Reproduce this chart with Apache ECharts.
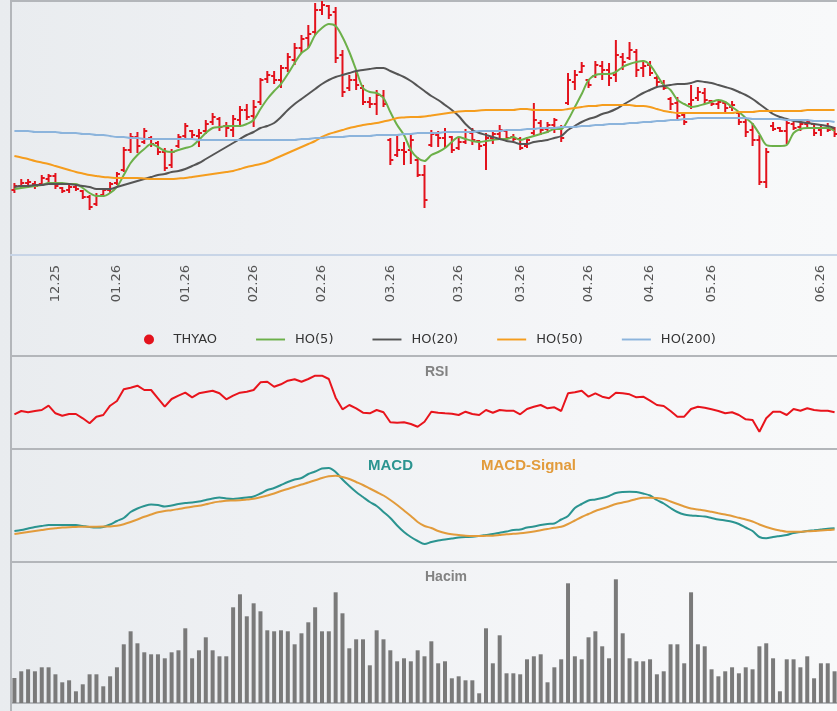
<!DOCTYPE html>
<html>
<head>
<meta charset="utf-8">
<title>THYAO</title>
<script src="https://cdn.jsdelivr.net/npm/echarts@6/dist/echarts.min.js"></script>
<style>
  html, body { margin: 0; padding: 0; }
  body {
    width: 837px; height: 711px; overflow: hidden;
    background: linear-gradient(to right, #e9ecef 0%, #eef0f3 30%, #f5f6f8 70%, #f8f9fa 100%);
  }
  #chart { width: 837px; height: 711px; }
</style>
</head>
<body>
<div id="chart"></div>
<script>
// x ekseni etiketleri (hangi gunun altinda yazildigi)
const tickLabels = ['12.25', '01.26', '01.26', '02.26', '02.26', '03.26', '03.26', '03.26', '04.26', '04.26', '05.26', '06.26'];
const tickIndex = [6, 15, 25, 35, 45, 55, 65, 74, 84, 93, 102, 118];

// THYAO OHLC
const open = [
  210, 214, 217, 216, 216, 221, 224, 212, 210, 213,
  209, 203, 196, 205, 210, 217, 230, 250, 263, 258,
  262, 257, 248, 235, 254, 264, 269, 264, 269, 278,
  281, 274, 270, 280, 290, 284, 298, 321, 324, 320,
  332, 340, 352, 362, 368, 390, 394, 388, 345, 312,
  320, 312, 298, 296, 304, 260, 245, 250, 250, 240,
  225, 255, 265, 262, 263, 252, 258, 267, 259, 255,
  262, 266, 269, 263, 261, 254, 267, 277, 271, 275,
  272, 297, 318, 328, 320, 324, 334, 330, 325, 343,
  342, 348, 332, 335, 322, 317, 301, 297, 285, 296,
  302, 307, 299, 296, 297, 293, 287, 278, 270, 260,
  218, 274, 272, 269, 276, 273, 276, 276, 270, 272,
  271
];
const close = [
  214, 217, 218, 214, 222, 224, 214, 209, 213, 211,
  203, 193, 204, 210, 216, 226, 250, 263, 254, 269,
  256, 248, 232, 248, 263, 274, 265, 267, 276, 283,
  273, 272, 281, 290, 283, 293, 320, 325, 320, 332,
  343, 352, 361, 366, 390, 395, 385, 342, 308, 320,
  315, 298, 296, 305, 296, 240, 250, 248, 260, 225,
  200, 266, 262, 268, 250, 258, 268, 260, 254, 262,
  266, 270, 262, 261, 252, 260, 280, 270, 275, 280,
  262, 320, 325, 334, 315, 335, 330, 322, 345, 338,
  350, 330, 334, 327, 318, 312, 296, 284, 278, 300,
  308, 300, 296, 298, 292, 295, 278, 268, 260, 218,
  248, 271, 269, 277, 272, 276, 278, 267, 272, 270,
  266
];
const low = [
  207, 212, 213, 211, 214, 217, 211, 207, 207, 209,
  201, 190, 194, 203, 207, 215, 228, 247, 247, 256,
  253, 245, 229, 232, 252, 262, 262, 253, 266, 275,
  269, 263, 263, 273, 280, 273, 295, 317, 316, 312,
  328, 335, 347, 352, 365, 385, 381, 337, 303, 309,
  310, 295, 292, 285, 293, 235, 243, 235, 236, 223,
  192, 253, 253, 252, 247, 250, 256, 255, 250, 230,
  256, 261, 260, 259, 250, 252, 265, 265, 267, 267,
  258, 295, 310, 327, 312, 322, 320, 314, 318, 330,
  340, 323, 323, 324, 313, 310, 290, 279, 275, 291,
  299, 296, 294, 291, 288, 289, 275, 263, 254, 215,
  212, 269, 268, 256, 270, 269, 273, 264, 264, 268,
  263
];
const high = [
  217, 221, 221, 219, 225, 226, 227, 213, 216, 216,
  210, 205, 207, 212, 218, 228, 253, 267, 268, 272,
  264, 259, 252, 251, 266, 277, 270, 271, 280, 287,
  283, 278, 285, 294, 296, 300, 322, 329, 329, 335,
  347, 357, 365, 375, 397, 399, 395, 393, 350, 325,
  328, 315, 303, 310, 310, 262, 266, 258, 267, 243,
  235, 270, 269, 272, 264, 263, 271, 272, 260, 267,
  269, 275, 270, 266, 263, 263, 297, 280, 278, 282,
  275, 327, 330, 338, 321, 339, 339, 337, 360, 347,
  358, 351, 340, 339, 324, 320, 303, 303, 287, 315,
  313, 312, 300, 300, 299, 299, 288, 281, 277, 265,
  252, 278, 273, 280, 278, 280, 281, 277, 276, 277,
  273
];

// hareketli ortalamalar
const ho5 = [
  211, 212, 213, 214, 215, 217, 217, 217, 216, 216,
  212, 207, 204, 204, 207, 213, 225, 237, 245, 251,
  256, 253, 249, 248, 250, 252, 254, 260, 267, 272,
  273, 274, 274, 274, 276, 280, 291, 301, 309, 316,
  326, 337, 347, 352, 365, 372, 376, 374, 363, 348,
  330, 312, 308, 307, 302, 288, 275, 265, 250, 242,
  239, 245, 248, 252, 258, 263, 261, 259, 258, 259,
  260, 261, 261, 263, 260, 262, 264, 266, 268, 271,
  271, 280, 293, 306, 320, 325, 326, 326, 328, 333,
  336, 338, 339, 335, 325, 315, 310, 300, 296, 293,
  294, 296, 298, 300, 298, 293, 288, 282, 276, 266,
  255, 254, 254, 255, 267, 271, 272, 272, 272, 272,
  269
];
const ho20 = [
  213, 214, 214, 215, 215, 216, 216, 216, 216, 215,
  214, 213, 211, 211, 211, 213, 215, 217, 219, 221,
  223, 225, 226, 228, 229, 231, 234, 237, 241, 245,
  249, 253, 257, 261, 265, 268, 272, 274, 277, 283,
  290, 296, 301, 306, 311, 316, 320, 323, 325, 327,
  329, 330, 331, 332, 332, 329, 326, 323, 319, 314,
  309, 304, 300, 295, 290, 284, 276, 270, 267, 265,
  263, 261, 259, 258, 256, 256, 258, 259, 260, 262,
  264, 270, 274, 278, 281, 283, 286, 288, 291, 295,
  299, 303, 307, 310, 313, 314, 315, 316, 316, 317,
  319, 318, 317, 315, 313, 311, 308, 305, 301, 296,
  291, 286, 283, 281, 279, 278, 277, 276, 275, 274,
  272
];
const ho50 = [
  244, 242.5, 241, 239, 237.5, 236, 234, 232, 230, 228,
  226.5, 225, 224, 223, 222.5, 222, 222, 222, 222, 221.5,
  221, 221, 221, 221, 221.5, 222, 223, 224, 225, 226,
  227, 228, 229, 231, 233, 234.5, 236, 238, 241, 244,
  247, 250, 253, 256, 259, 263, 266, 268, 270, 272,
  273.5, 275, 276, 277, 278.5, 280, 282, 282.5, 283, 283,
  283.5, 284.5, 285.5, 286.5, 287.5, 288.5, 289, 289, 289.5, 290,
  290, 290, 290, 290, 291, 291, 290, 290, 290, 290,
  290, 291, 292, 293, 294, 294, 295, 295, 295, 295,
  295, 294, 294, 293, 291, 289, 288, 287, 287, 287,
  287, 287, 287, 287, 287, 287, 288, 288, 288, 289,
  289, 289, 289, 289, 289, 289, 290, 290, 290, 290,
  290
];
const ho200 = [
  269, 269, 269, 268, 268, 268, 268, 267, 267, 267,
  266, 266, 265, 265, 264, 263, 263, 262, 262, 261,
  261, 261, 261, 261, 261, 261, 261, 260, 260, 260,
  260, 260, 260, 260, 260, 260, 260, 260, 260, 260,
  260, 260, 261, 261, 262, 262, 263, 263, 263, 264,
  264, 264, 264, 265, 265, 265, 265, 266, 266, 267,
  267, 267, 267, 268, 268, 268, 268, 268, 269, 269,
  269, 269, 270, 270, 270, 271, 271, 272, 272, 272,
  273, 273, 273, 274, 274, 275, 275, 276, 276, 276,
  277, 277, 278, 278, 279, 279, 280, 280, 281, 281,
  282, 282, 282, 282, 282, 282, 282, 282, 281, 281,
  281, 281, 281, 280, 280, 280, 280, 279, 279, 279,
  278
];

// RSI
const rsi = [
  40.7, 44, 42.7, 44, 45, 49.3, 41.7, 39.3, 41, 41,
  36.7, 31.7, 38.3, 40, 49.3, 54, 65.7, 67.3, 69.3, 65,
  65, 56.7, 48.3, 56, 59.3, 62.3, 57.7, 61.7, 63, 64.3,
  61.7, 55.7, 59.3, 62.3, 63.3, 65, 72.7, 73.3, 68.3, 70.7,
  74.3, 75.7, 73.3, 76, 79.3, 79.3, 76, 57.3, 45.7, 50,
  46.7, 42.3, 41.7, 45, 42.7, 32.7, 32.3, 32.7, 31, 28.3,
  33.3, 43.3, 42.3, 41.7, 41.3, 40, 43.3, 41, 40, 45,
  42.3, 45, 44.3, 44.3, 40.7, 46, 48.3, 50, 46.7, 47.7,
  44, 61.7, 62.7, 64.3, 58.3, 61.7, 58.3, 56.7, 62.3, 61.7,
  60.7, 57.7, 58.3, 54.3, 50, 49, 44, 38.3, 38.3, 46,
  48.3, 47.3, 45.7, 44, 41.7, 42.7, 40, 35.7, 35, 23.3,
  36.7, 43.3, 43.3, 40, 46, 44.3, 46.7, 45, 44.3, 44.3,
  42.7
];

// MACD ve sinyal
const macd = [
  -1.1, -1.0, -0.85, -0.7, -0.6, -0.5, -0.5, -0.5, -0.5, -0.5,
  -0.6, -0.7, -0.75, -0.7, -0.45, -0.1, 0.2, 0.8, 1.15, 1.4,
  1.55, 1.5, 1.35, 1.45, 1.6, 1.7, 1.75, 1.85, 2.0, 2.15,
  2.25, 2.15, 2.1, 2.17, 2.25, 2.35, 2.65, 3.0, 3.2, 3.5,
  3.8, 4.05, 4.2, 4.6, 4.85, 5.15, 5.2, 4.8, 4.05, 3.4,
  2.8, 2.3, 1.8, 1.4, 0.8, 0.2, -0.55, -1.2, -1.7, -2.1,
  -2.4, -2.2, -2.05, -1.95, -1.85, -1.75, -1.7, -1.68, -1.6, -1.5,
  -1.4, -1.27, -1.15, -1.0, -0.95, -0.75, -0.65, -0.5, -0.4, -0.35,
  0.05, 0.4, 1.2, 1.6, 1.95, 2.05, 2.2, 2.4, 2.7, 2.8,
  2.83, 2.8, 2.65, 2.45, 2.0, 1.65, 1.2, 0.8, 0.55, 0.45,
  0.4, 0.35, 0.2, 0.05, -0.05, -0.17, -0.4, -0.75, -1.1, -1.7,
  -1.83, -1.7, -1.6, -1.5, -1.3, -1.2, -1.1, -1.03, -0.95, -0.87,
  -0.83
];
const signal = [
  -1.4, -1.3, -1.2, -1.1, -1.0, -0.9, -0.83, -0.76, -0.72, -0.7,
  -0.67, -0.67, -0.67, -0.66, -0.64, -0.58, -0.42, -0.2, 0.05, 0.33,
  0.55, 0.77, 0.9, 0.98, 1.1, 1.22, 1.33, 1.42, 1.57, 1.73,
  1.84, 1.93, 1.95, 1.97, 2.04, 2.12, 2.27, 2.45, 2.65, 2.9,
  3.1, 3.32, 3.55, 3.75, 3.97, 4.2, 4.37, 4.43, 4.3, 4.1,
  3.8, 3.5, 3.15, 2.8, 2.45, 2.0, 1.5, 0.95, 0.4, -0.2,
  -0.6, -0.8, -1.1, -1.3, -1.43, -1.5, -1.57, -1.6, -1.6, -1.58,
  -1.57, -1.5, -1.43, -1.38, -1.33, -1.25, -1.15, -1.02, -0.9, -0.78,
  -0.68, -0.4, -0.05, 0.3, 0.6, 0.9, 1.12, 1.35, 1.6, 1.75,
  1.9, 2.1, 2.23, 2.23, 2.2, 2.1, 1.85, 1.6, 1.35, 1.15,
  1.05, 0.95, 0.82, 0.68, 0.54, 0.4, 0.22, 0.05, -0.15, -0.45,
  -0.7, -0.9, -1.05, -1.17, -1.18, -1.17, -1.13, -1.1, -1.04, -1.0,
  -0.94
];

// hacim
const volume = [
  25, 31.7, 33.7, 31.7, 35.7, 35.7, 28.7, 20.7, 22.7, 11.7,
  18.7, 28.7, 28.7, 16.7, 26.7, 35.7, 58.7, 71.7, 59.7, 50.7,
  48.7, 48.7, 44.7, 50.7, 52.7, 74.7, 44.7, 52.7, 65.7, 52.7,
  46.7, 46.7, 95.7, 108.7, 86.7, 99.7, 91.7, 72.7, 71.7, 72.7,
  71.7, 58.7, 69.7, 80.7, 95.7, 71.7, 71.7, 110.7, 89.7, 54.7,
  63.7, 63.7, 37.7, 72.7, 63.7, 52.7, 41.7, 44.7, 41.7, 52.7,
  46.7, 61.7, 39.7, 41.7, 24.7, 26.7, 22.7, 22.7, 9.7, 74.7,
  39.7, 67.7, 29.7, 29.7, 28.7, 43.7, 46.7, 48.7, 20.7, 35.7,
  43.7, 119.7, 46.7, 43.7, 65.7, 71.7, 56.7, 44.7, 123.7, 69.7,
  44.7, 41.7, 41.7, 43.7, 28.7, 31.7, 58.7, 58.7, 39.7, 110.7,
  58.7, 56.7, 33.7, 26.7, 31.7, 35.7, 29.7, 35.7, 33.7, 56.7,
  59.7, 44.7, 11.7, 43.7, 43.7, 35.7, 46.7, 24.7, 39.7, 39.7,
  31.7
];

const days = open.map((_, i) => {
  const k = tickIndex.indexOf(i);
  return k < 0 ? '' : tickLabels[k];
});
const ohlc = open.map((o, i) => [i, o, close[i], low[i], high[i]]);

const barColor = '#e3121c';
const frameColor = '#b3b6ba';
const lineIcon = 'path://M0,0H30V2H0Z';

function renderOhlc(params, api) {
  const i = api.value(0);
  const op = api.coord([i, api.value(1)]);
  const cl = api.coord([i, api.value(2)]);
  const lo = api.coord([i, api.value(3)]);
  const hi = api.coord([i, api.value(4)]);
  const st = { stroke: barColor, lineWidth: 2 };
  return {
    type: 'group',
    children: [
      { type: 'line', shape: { x1: hi[0], y1: hi[1], x2: lo[0], y2: lo[1] }, style: st },
      { type: 'line', shape: { x1: op[0] - 3, y1: op[1], x2: op[0], y2: op[1] }, style: st },
      { type: 'line', shape: { x1: cl[0], y1: cl[1], x2: cl[0] + 3, y2: cl[1] }, style: st }
    ]
  };
}

function hline(y) {
  return { type: 'line', silent: true, shape: { x1: 10, y1: y, x2: 837, y2: y }, style: { stroke: frameColor, lineWidth: 2 } };
}

const chart = echarts.init(document.getElementById('chart'));

const grids = [
  { top: 0, height: 255 },
  { top: 357, height: 90 },
  { top: 449, height: 113 },
  { top: 563, height: 140 }
];

const option = {
  animation: false,
  textStyle: { fontFamily: 'DejaVu Sans' },
  title: [
    { text: 'RSI', left: 425, top: 365, padding: 0,
      textStyle: { fontFamily: 'Liberation Sans', fontSize: 14, fontWeight: 'bold', color: '#828282' } },
    { text: 'MACD', left: 368, top: 458, padding: 0,
      textStyle: { fontFamily: 'Liberation Sans', fontSize: 15, fontWeight: 'bold', color: '#2b9490' } },
    { text: 'MACD-Signal', left: 481, top: 458, padding: 0,
      textStyle: { fontFamily: 'Liberation Sans', fontSize: 15, fontWeight: 'bold', color: '#e29b3b' } },
    { text: 'Hacim', left: 425, top: 570, padding: 0,
      textStyle: { fontFamily: 'Liberation Sans', fontSize: 14, fontWeight: 'bold', color: '#828282' } }
  ],
  legend: {
    left: 144,
    top: 333,
    padding: 0,
    itemWidth: 29,
    itemHeight: 10,
    itemGap: 39,
    selectedMode: false,
    textStyle: { fontSize: 13, color: '#333', padding: [0, 0, 0, 5] },
    data: [
      { name: 'THYAO', icon: 'circle' },
      { name: 'HO(5)', icon: lineIcon },
      { name: 'HO(20)', icon: lineIcon },
      { name: 'HO(50)', icon: lineIcon },
      { name: 'HO(200)', icon: lineIcon }
    ]
  },
  grid: grids.map(g => ({ left: 11, width: 827, top: g.top, height: g.height, outerBoundsMode: 'none' })),
  xAxis: grids.map((g, k) => ({
    type: 'category',
    gridIndex: k,
    data: days,
    show: k === 0,
    axisLine: { lineStyle: { color: '#c8d5e7', width: 2 } },
    axisTick: { show: false },
    splitLine: { show: false },
    axisLabel: {
      rotate: 90,
      fontSize: 13,
      color: '#555',
      margin: 10,
      interval: (idx) => tickIndex.indexOf(idx) >= 0
    }
  })),
  yAxis: [
    { gridIndex: 0, min: 145, max: 400, show: false },
    { gridIndex: 1, min: 8, max: 98, show: false },
    { gridIndex: 2, min: -4.2, max: 7.1, show: false },
    { gridIndex: 3, min: 0, max: 140, show: false }
  ],
  graphic: [
    { type: 'line', silent: true, shape: { x1: 11, y1: 0, x2: 11, y2: 711 }, style: { stroke: frameColor, lineWidth: 2 } },
    hline(1), hline(356), hline(449), hline(562), hline(703)
  ],
  series: [
    {
      name: 'THYAO',
      type: 'custom',
      xAxisIndex: 0,
      yAxisIndex: 0,
      renderItem: renderOhlc,
      itemStyle: { color: barColor },
      encode: { x: 0, y: [1, 2, 3, 4] },
      data: ohlc,
      z: 2
    },
    { name: 'HO(5)', type: 'line', data: ho5, color: '#6cb049', symbol: 'none', smooth: 0.3, lineStyle: { width: 2 }, z: 3 },
    { name: 'HO(20)', type: 'line', data: ho20, color: '#555555', symbol: 'none', smooth: 0.3, lineStyle: { width: 2 }, z: 3 },
    { name: 'HO(50)', type: 'line', data: ho50, color: '#f59d1e', symbol: 'none', smooth: 0.3, lineStyle: { width: 2 }, z: 3 },
    { name: 'HO(200)', type: 'line', data: ho200, color: '#8cb4dc', symbol: 'none', smooth: 0.3, lineStyle: { width: 2 }, z: 3 },
    {
      name: 'RSI', type: 'line', xAxisIndex: 1, yAxisIndex: 1, data: rsi,
      color: '#e8141c', symbol: 'none', lineStyle: { width: 2 }
    },
    {
      name: 'MACD', type: 'line', xAxisIndex: 2, yAxisIndex: 2, data: macd,
      color: '#2b9490', symbol: 'none', smooth: 0.3, lineStyle: { width: 2 }
    },
    {
      name: 'MACD-Signal', type: 'line', xAxisIndex: 2, yAxisIndex: 2, data: signal,
      color: '#e29b3b', symbol: 'none', smooth: 0.3, lineStyle: { width: 2 }
    },
    {
      name: 'Hacim', type: 'bar', xAxisIndex: 3, yAxisIndex: 3, data: volume,
      barWidth: 4, itemStyle: { color: '#7a7a7a' }
    }
  ]
};
chart.setOption(option);
</script>
</body>
</html>
